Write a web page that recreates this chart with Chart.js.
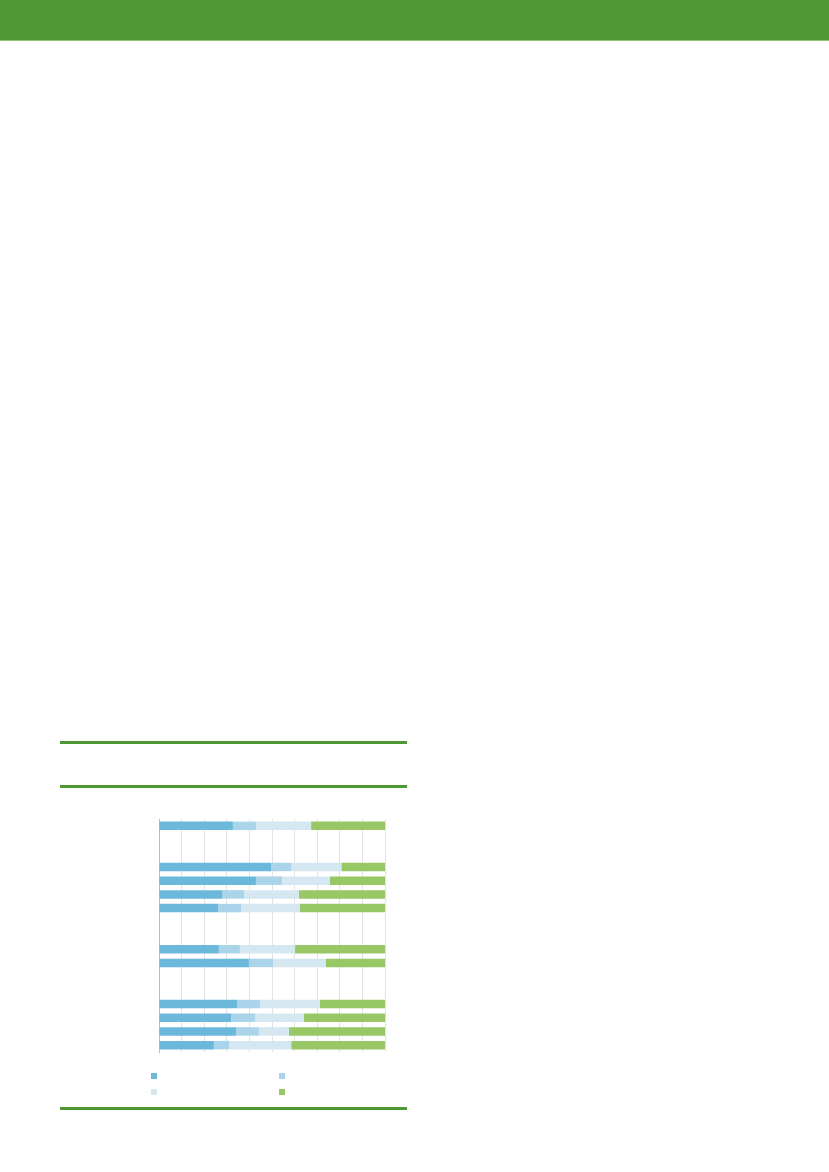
<!DOCTYPE html>
<html>
<head>
<meta charset="utf-8">
<script src="https://cdn.jsdelivr.net/npm/chart.js@4/dist/chart.umd.min.js"></script>
<style>
  html,body{margin:0;padding:0;background:#fff;width:829px;height:1172px;overflow:hidden;font-family:"Open Sans",sans-serif;}
  #header{position:absolute;left:0;top:0;width:829px;height:40px;background:#4f9935;border-bottom:1px solid #8fc27a;}
  .rule{position:absolute;left:60px;width:347px;height:3px;background:#4f9935;}
  #wrap{position:absolute;left:154px;top:814px;width:236px;height:243px;}
  .lg{position:absolute;width:6px;height:6px;}
</style>
</head>
<body>
<div id="header"></div>
<div class="rule" style="top:741px"></div>
<div class="rule" style="top:785px"></div>
<div class="rule" style="top:1107px"></div>
<div id="wrap"><canvas id="c"></canvas></div>
<div class="lg" style="left:151px;top:1073px;background:#6cb8db"></div>
<div class="lg" style="left:279px;top:1073px;background:#aad4ea"></div>
<div class="lg" style="left:151px;top:1089px;background:#d5e8f2"></div>
<div class="lg" style="left:279px;top:1089px;background:#98c766"></div>
<script>
const categories = ['r1','g1','r2','r3','r4','r5','g2','g3','r6','r7','g4','g5','r8','r9','r10','r11'];
// 17 slots including empty spacer rows
const rows = ['r1','s1','s2','r2','r3','r4','r5','s3','s4','r6','r7','s5','s6','r8','r9','r10','r11'];
const series1 = [32.7,null,null,49.6,42.9,27.9,26.1,null,null,26.5,39.8,null,null,34.5,31.9,34.1,24.3];
const series2 = [10.2,null,null,8.8,11.5,9.7,10.2,null,null,9.3,10.6,null,null,10.2,10.6,10.1,6.8];
const series3 = [24.4,null,null,22.3,21.1,24.3,25.9,null,null,24.4,23.5,null,null,26.5,21.5,13.3,27.4];
const series4 = [32.7,null,null,19.3,24.5,38.1,37.8,null,null,39.8,26.1,null,null,28.8,36.0,42.5,41.5];
const xTicks = [0,10,20,30,40,50,60,70,80,90,100];

const colors = ['#6cb8db','#aad4ea','#d5e8f2','#98c766'];
new Chart(document.getElementById('c'), {
  type: 'bar',
  data: {
    labels: rows,
    datasets: [series1, series2, series3, series4].map((d, i) => ({
      data: d,
      backgroundColor: colors[i],
      borderWidth: 0,
      barPercentage: 0.62,
      categoryPercentage: 1.0
    }))
  },
  options: {
    indexAxis: 'y',
    responsive: true,
    maintainAspectRatio: false,
    animation: false,
    layout: { padding: 5 },
    plugins: { legend: { display: false }, tooltip: { enabled: false } },
    scales: {
      x: {
        stacked: true, min: 0, max: 100,
        afterBuildTicks: (ax) => { ax.ticks = xTicks.map(v => ({ value: v })); },
        ticks: { display: false },
        grid: { color: '#e2e2e2', lineWidth: 1, drawTicks: false },
        border: { display: false }
      },
      y: {
        stacked: true,
        ticks: { display: false },
        grid: { display: false, drawTicks: false },
        border: { display: true, color: '#bdbdbd', width: 1 }
      }
    }
  }
});
</script>
</body>
</html>
